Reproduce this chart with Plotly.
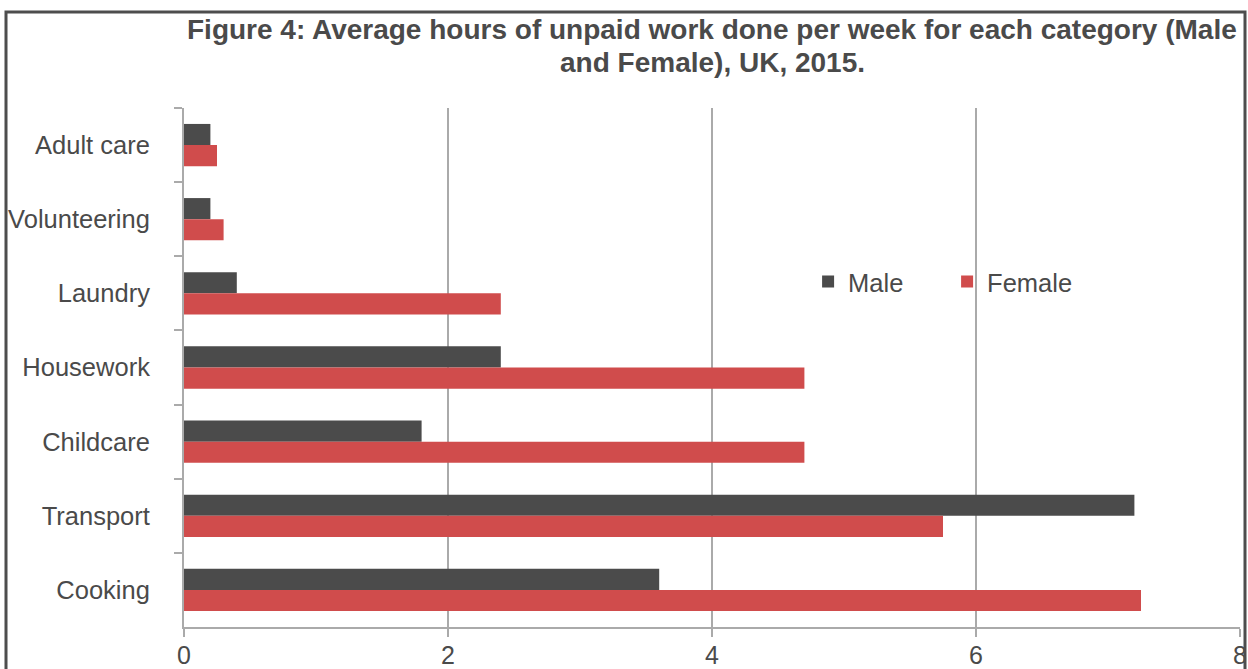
import plotly.graph_objects as go

categories = ["Adult care", "Volunteering", "Laundry", "Housework", "Childcare", "Transport", "Cooking"]
male = [0.2, 0.2, 0.4, 2.4, 1.8, 7.2, 3.6]
female = [0.25, 0.3, 2.4, 4.7, 4.7, 5.75, 7.25]
x_ticks = [0, 2, 4, 6, 8]

FONT = "Liberation Sans, Arial, Helvetica, sans-serif"
TXT = "#4a4a4a"
GRID = "#aaaaaa"

fig = go.Figure()
fig.add_trace(go.Bar(y=categories, x=male, name="Male", orientation="h",
                     marker=dict(color="#4b4b4b", line=dict(width=0))))
fig.add_trace(go.Bar(y=categories, x=female, name="Female", orientation="h",
                     marker=dict(color="#d04c4c", line=dict(width=0))))

fig.update_layout(
    width=1248, height=669,
    margin=dict(l=184, r=8, t=108, b=42, autoexpand=False),
    paper_bgcolor="white", plot_bgcolor="white",
    barmode="group", bargap=0.43, bargroupgap=0,
    font=dict(family=FONT, size=25.5, color=TXT),
    showlegend=True,
    legend=dict(orientation="h", x=0.591, y=(627 - 282) / 519, xanchor="left", yanchor="middle",
                font=dict(size=25.5, color=TXT), bgcolor="rgba(0,0,0,0)",
                entrywidth=94, itemwidth=30),
    xaxis=dict(range=[0, 8], tickvals=x_ticks, showgrid=True, gridcolor=GRID, gridwidth=2,
               showline=True, linecolor=GRID, linewidth=2, ticks="outside", ticklen=8,
               tickcolor=GRID, tickwidth=2, zeroline=False, automargin=False,
               ticklabelstandoff=-3, tickfont=dict(size=25, color=TXT)),
    yaxis=dict(autorange="reversed", showline=True, linecolor=GRID, linewidth=2,
               ticks="outside", tickson="boundaries", ticklen=8, tickcolor=GRID, tickwidth=2,
               showgrid=False, ticklabelstandoff=27, automargin=False,
               tickfont=dict(size=25.5, color=TXT)),
)

fig.add_annotation(
    text="<b>Figure 4: Average hours of unpaid work done per week for each category (Male</b>",
    xref="paper", yref="paper", x=0.5, y=(627 - 30) / 519, xanchor="center", yanchor="middle",
    showarrow=False, font=dict(family=FONT, size=28, color=TXT),
)
fig.add_annotation(
    text="<b>and Female), UK, 2015.</b>",
    xref="paper", yref="paper", x=0.5, y=(627 - 62) / 519, xanchor="center", yanchor="middle",
    showarrow=False, font=dict(family=FONT, size=28, color=TXT),
)

fig.add_shape(type="rect", xref="paper", yref="paper",
              x0=(6 - 184) / 1056, x1=(1245 - 184) / 1056,
              y0=-0.2, y1=(627 - 12) / 519,
              line=dict(color="#4d4d4d", width=3), layer="above")

fig.write_html("out.html", config={"displayModeBar": False},
               post_script="document.body.style.margin='0px';")
